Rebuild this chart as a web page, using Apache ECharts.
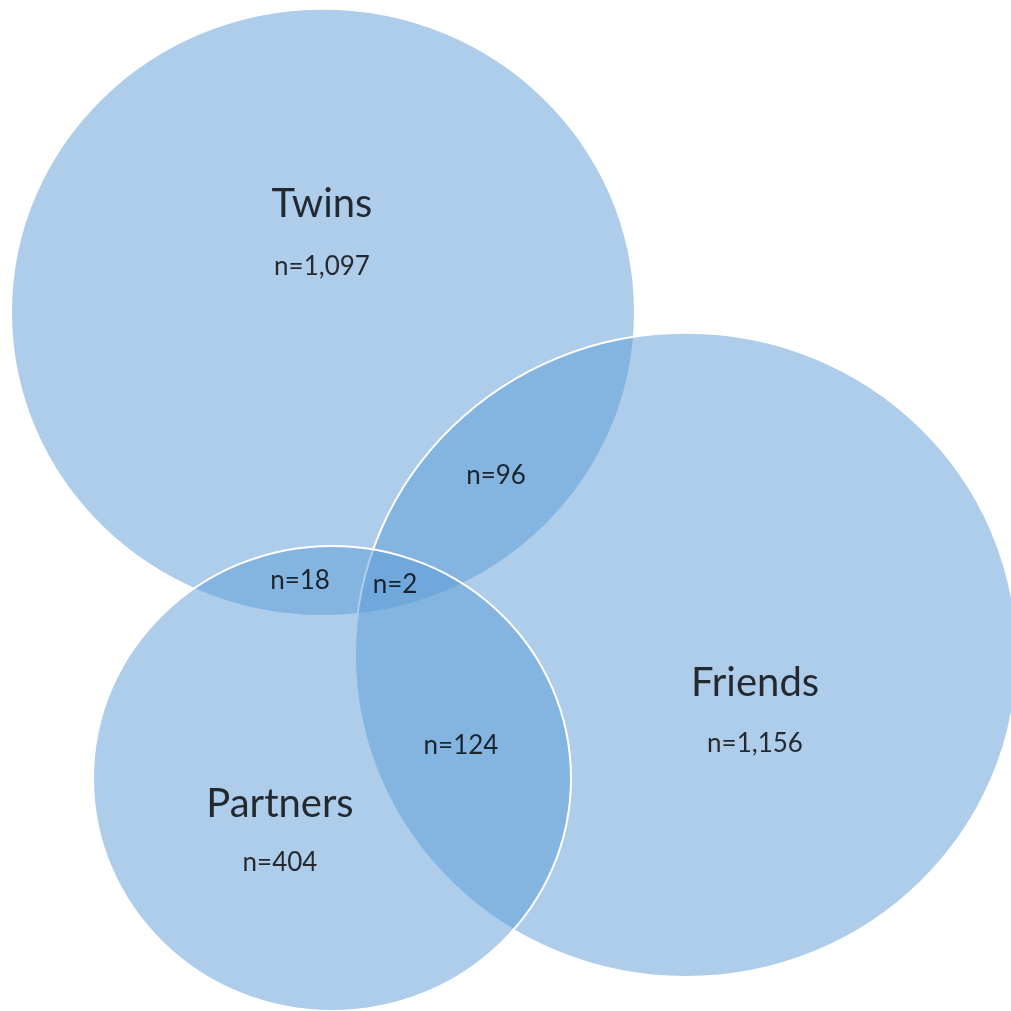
<!DOCTYPE html>
<html>
<head>
<meta charset="utf-8">
<style>
  html, body { margin: 0; padding: 0; background: #ffffff; }
  #chart { width: 1011px; height: 1011px; }
</style>
<script src="https://cdn.jsdelivr.net/npm/echarts@6/dist/echarts.min.js"></script>
</head>
<body>
<div id="chart"></div>
<script>
// Sets and their sizes
const setNames = ['Twins', 'Friends', 'Partners'];
const setCounts = [1097, 1156, 404];

// Overlap counts
const overlapNames = ['Twins ∩ Friends', 'Twins ∩ Partners', 'All three', 'Friends ∩ Partners'];
const overlapCounts = [96, 18, 2, 124];

// Circle layout in plot units: centre x, centre y, radius
const circleX = [323, 686, 332];
const circleY = [321, 673, 800];
const circleR = [312, 331, 239];

// Label anchors in plot units
const setTitleX = [322, 755, 280];
const setTitleY = [210, 702, 826];
const setCountX = [322, 755, 280];
const setCountY = [274, 764, 886];
const overlapX = [496, 300, 395, 461];
const overlapY = [489, 597, 601, 766];

const fmt = n => 'n=' + n.toLocaleString('en-US');

const chart = echarts.init(document.getElementById('chart'), null, { renderer: 'canvas' });

const circleData = setNames.map((name, i) => ({ name, value: [circleX[i], circleY[i], circleR[i]] }));

const textStyle = {
  color: '#000000',
  textBorderWidth: 0,
  fontFamily: 'Lato, "Open Sans", sans-serif'
};

chart.setOption({
  animation: false,
  backgroundColor: '#ffffff',
  grid: { left: 0, right: 0, top: 0, bottom: 0 },
  xAxis: { type: 'value', min: 0, max: 1011, show: false },
  yAxis: { type: 'value', min: 0, max: 1039, inverse: true, show: false },
  series: [
    {
      type: 'custom',
      name: 'sets',
      coordinateSystem: 'cartesian2d',
      data: circleData,
      renderItem: function (params, api) {
        const c = api.coord([api.value(0), api.value(1)]);
        const s = api.size([api.value(2), api.value(2)]);
        return {
          type: 'ellipse',
          shape: { cx: c[0], cy: c[1], rx: s[0], ry: s[1] },
          style: {
            fill: 'rgba(91,155,213,0.5)',
            stroke: '#ffffff',
            lineWidth: 2
          }
        };
      }
    },
    {
      type: 'scatter',
      name: 'titles',
      symbolSize: 0,
      z: 5,
      data: setNames.map((name, i) => ({ name, value: [setTitleX[i], setTitleY[i]] })),
      label: {
        show: true,
        position: 'inside',
        formatter: p => p.name,
        fontSize: 40,
        ...textStyle
      }
    },
    {
      type: 'scatter',
      name: 'counts',
      symbolSize: 0,
      z: 5,
      data: setCounts.map((v, i) => ({ name: setNames[i], value: [setCountX[i], setCountY[i], v] })),
      label: {
        show: true,
        position: 'inside',
        formatter: p => fmt(p.value[2]),
        fontSize: 26,
        ...textStyle
      }
    },
    {
      type: 'scatter',
      name: 'overlaps',
      symbolSize: 0,
      z: 5,
      data: overlapCounts.map((v, i) => ({ name: overlapNames[i], value: [overlapX[i], overlapY[i], v] })),
      label: {
        show: true,
        position: 'inside',
        formatter: p => fmt(p.value[2]),
        fontSize: 26,
        ...textStyle
      }
    }
  ]
});
</script>
</body>
</html>
